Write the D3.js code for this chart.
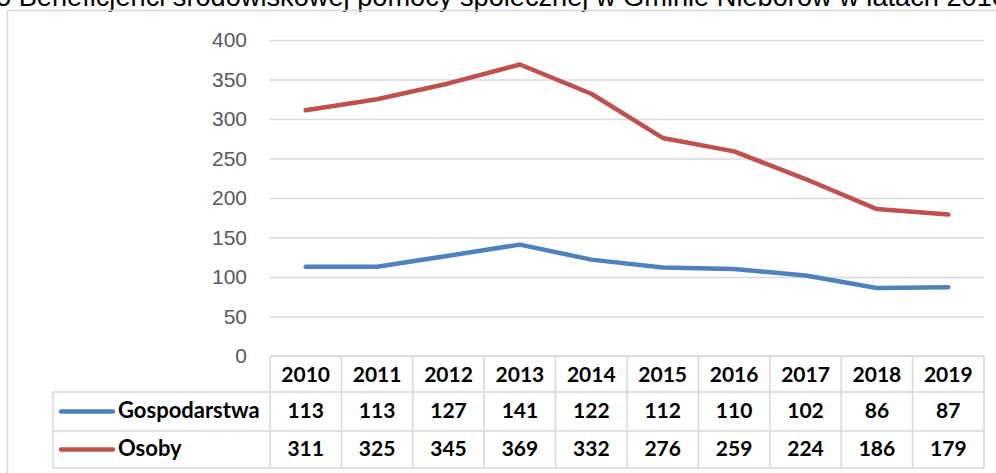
<!DOCTYPE html>
<html><head><meta charset="utf-8">
<script src="https://cdn.jsdelivr.net/npm/d3@7"></script>
<style>body{margin:0;background:#fff}svg{display:block}</style>
</head><body>
<svg id="c" width="996" height="473"></svg>
<script>
const years = ["2010","2011","2012","2013","2014","2015","2016","2017","2018","2019"];
const gospodarstwa = [113,113,127,141,122,112,110,102,86,87];
const osoby = [311,325,345,369,332,276,259,224,186,179];
const yTicks = [0,50,100,150,200,250,300,350,400];
const seriesNames = ["Gospodarstwa","Osoby"];
const seriesColors = ["#4F81BD","#C0504D"];
const title = "5 Beneficjenci środowiskowej pomocy społecznej w Gminie Nieborów w latach 2010-2019";

const svg = d3.select("#c");
const L = 270, R = 984, T = 40, B = 356;
const x = d3.scaleBand().domain(years).range([L, R]);
const y = d3.scaleLinear().domain([0, 400]).range([B, T]);
const grid = "#d9d9d9";

// title (cut at top, as in the reference)
svg.append("text").attr("x", -4).attr("y", 6)
  .attr("font-family", "Liberation Sans, Arial, sans-serif").attr("font-size", 27.2)
  .attr("fill", "#000").text(title);

// frame
svg.append("rect").attr("x", 7.5).attr("y", 10.5).attr("width", 1100).attr("height", 600)
  .attr("fill", "none").attr("stroke", grid).attr("stroke-width", 1.5);

// y axis with gridlines
const ax = svg.append("g").attr("transform", `translate(${L},0)`)
  .call(d3.axisLeft(y).tickValues(yTicks).tickSize(-(R - L)).tickPadding(23));
ax.select(".domain").remove();
ax.selectAll(".tick line").attr("stroke", grid).attr("stroke-width", 1.5);
ax.selectAll(".tick text").attr("fill", "#595959")
  .attr("font-family", "Liberation Sans, Arial, sans-serif").attr("font-size", 21);

// lines
const series = [gospodarstwa, osoby];
const line = d3.line().x((d, i) => x(years[i]) + x.bandwidth() / 2).y(d => y(d));
series.forEach((s, k) => {
  svg.append("path").datum(s).attr("d", line).attr("fill", "none")
    .attr("stroke", seriesColors[k]).attr("stroke-width", 4.5)
    .attr("stroke-linecap", "round").attr("stroke-linejoin", "round");
});

// data table
const rowY = [356, 392, 431, 468];
const LG = 53;
const tg = svg.append("g").attr("stroke", grid).attr("stroke-width", 1.5);
tg.append("line").attr("x1", L).attr("x2", R).attr("y1", rowY[0]).attr("y2", rowY[0]);
[1, 2, 3].forEach(r => tg.append("line").attr("x1", LG).attr("x2", R).attr("y1", rowY[r]).attr("y2", rowY[r]));
tg.append("line").attr("x1", LG).attr("x2", LG).attr("y1", rowY[1]).attr("y2", rowY[3]);
years.forEach(yr => tg.append("line").attr("x1", x(yr)).attr("x2", x(yr)).attr("y1", rowY[0]).attr("y2", rowY[3]));
tg.append("line").attr("x1", R).attr("x2", R).attr("y1", rowY[0]).attr("y2", rowY[3]);

const font = "Lato, 'Open Sans', sans-serif";
const cellText = (xx, yy, t, anchor, fs) => svg.append("text").attr("x", xx).attr("y", yy)
  .attr("text-anchor", anchor || "middle").attr("font-family", font).attr("font-weight", "bold")
  .attr("font-size", fs || 21).attr("fill", "#000").text(t);

const baselines = [382, 418, 456];
years.forEach(yr => cellText(x(yr) + x.bandwidth() / 2, baselines[0], yr));
series.forEach((s, k) => {
  s.forEach((v, i) => cellText(x(years[i]) + x.bandwidth() / 2, baselines[k + 1], v));
  const cy = (rowY[k + 1] + rowY[k + 2]) / 2;
  svg.append("line").attr("x1", 61).attr("x2", 113).attr("y1", cy).attr("y2", cy)
    .attr("stroke", seriesColors[k]).attr("stroke-width", 4.5).attr("stroke-linecap", "round");
  cellText(118, baselines[k + 1], seriesNames[k], "start", 22);
});
</script>
</body></html>
